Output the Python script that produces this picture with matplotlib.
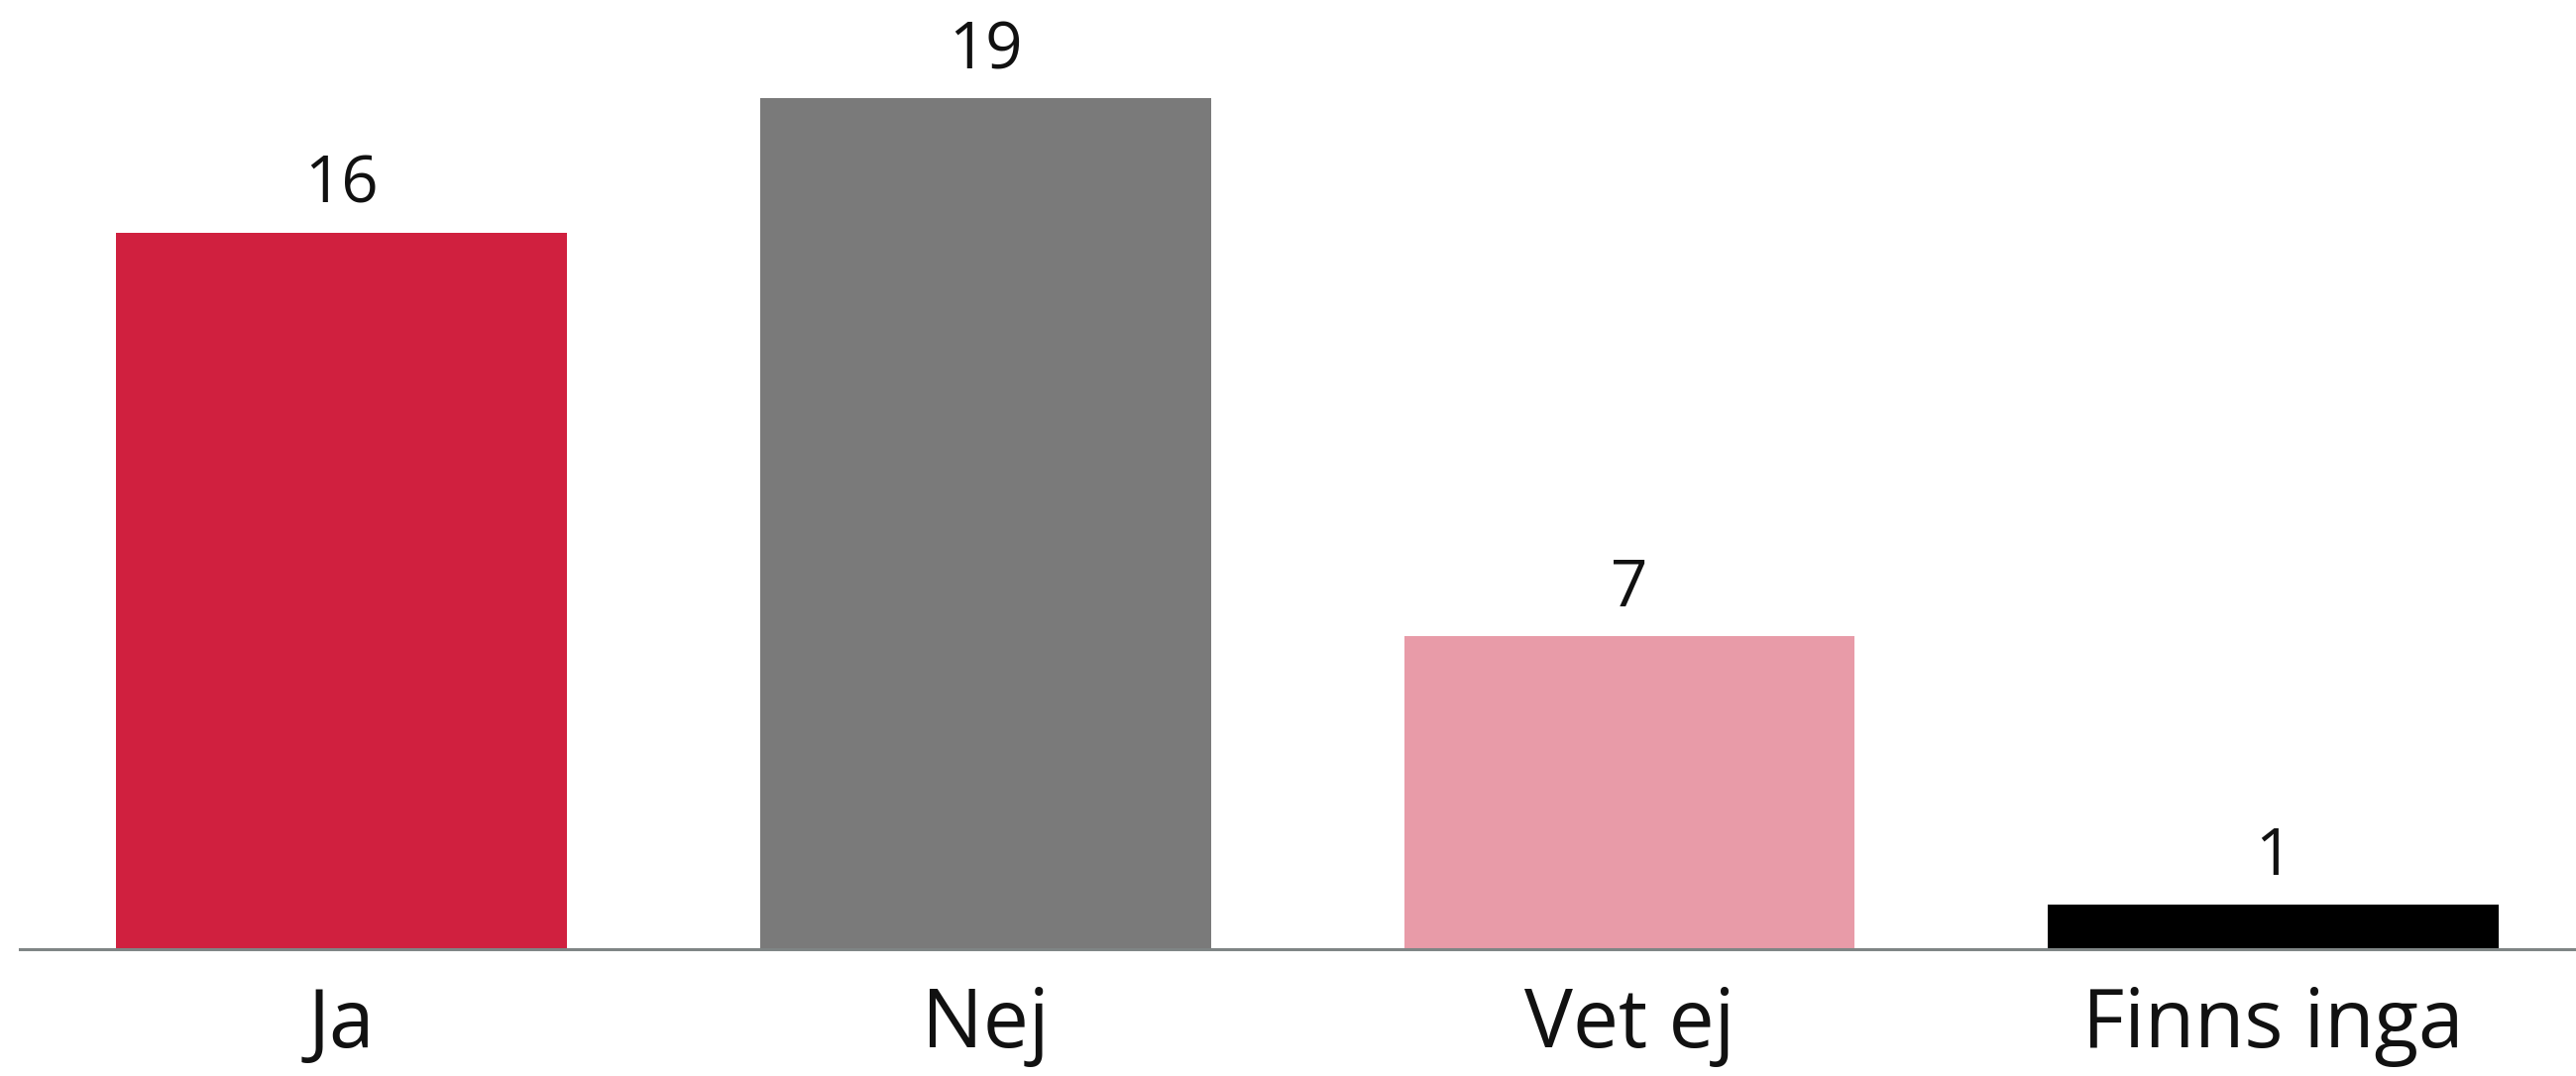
import matplotlib
matplotlib.use("Agg")
import matplotlib.pyplot as plt

categories = ["Ja", "Nej", "Vet ej", "Finns inga"]
values = [16, 19, 7, 1]
colors = ["#D0203F", "#7A7A7A", "#E89BA8", "#000000"]

plt.rcParams['font.family'] = ['Open Sans', 'DejaVu Sans']

fig = plt.figure(figsize=(25.99, 10.86), dpi=100)
ax = fig.add_axes([20/2599, 128/1086, 1 - 20/2599, 958/1086])

x = list(range(len(categories)))
bars = ax.bar(x, values, width=0.7, color=colors, zorder=2)
ax.set_xlim(-0.5, 3.47)
ax.set_ylim(0, 21.19)

for xi, v in zip(x, values):
    ax.annotate(str(v), (xi, v), xytext=(0, 10), textcoords="offset points",
                ha="center", va="bottom", fontsize=47, color="#111111")

ax.set_xticks(x)
ax.set_xticklabels(categories, fontsize=59, color="#111111")
ax.tick_params(axis="x", length=0, pad=26)
ax.set_yticks([])
for s in ["top", "right", "left"]:
    ax.spines[s].set_visible(False)
ax.spines["bottom"].set_color("#7F8585")
ax.spines["bottom"].set_linewidth(2.2)
ax.spines["bottom"].set_zorder(3)

fig.savefig("out.png", dpi=100, facecolor="white")
